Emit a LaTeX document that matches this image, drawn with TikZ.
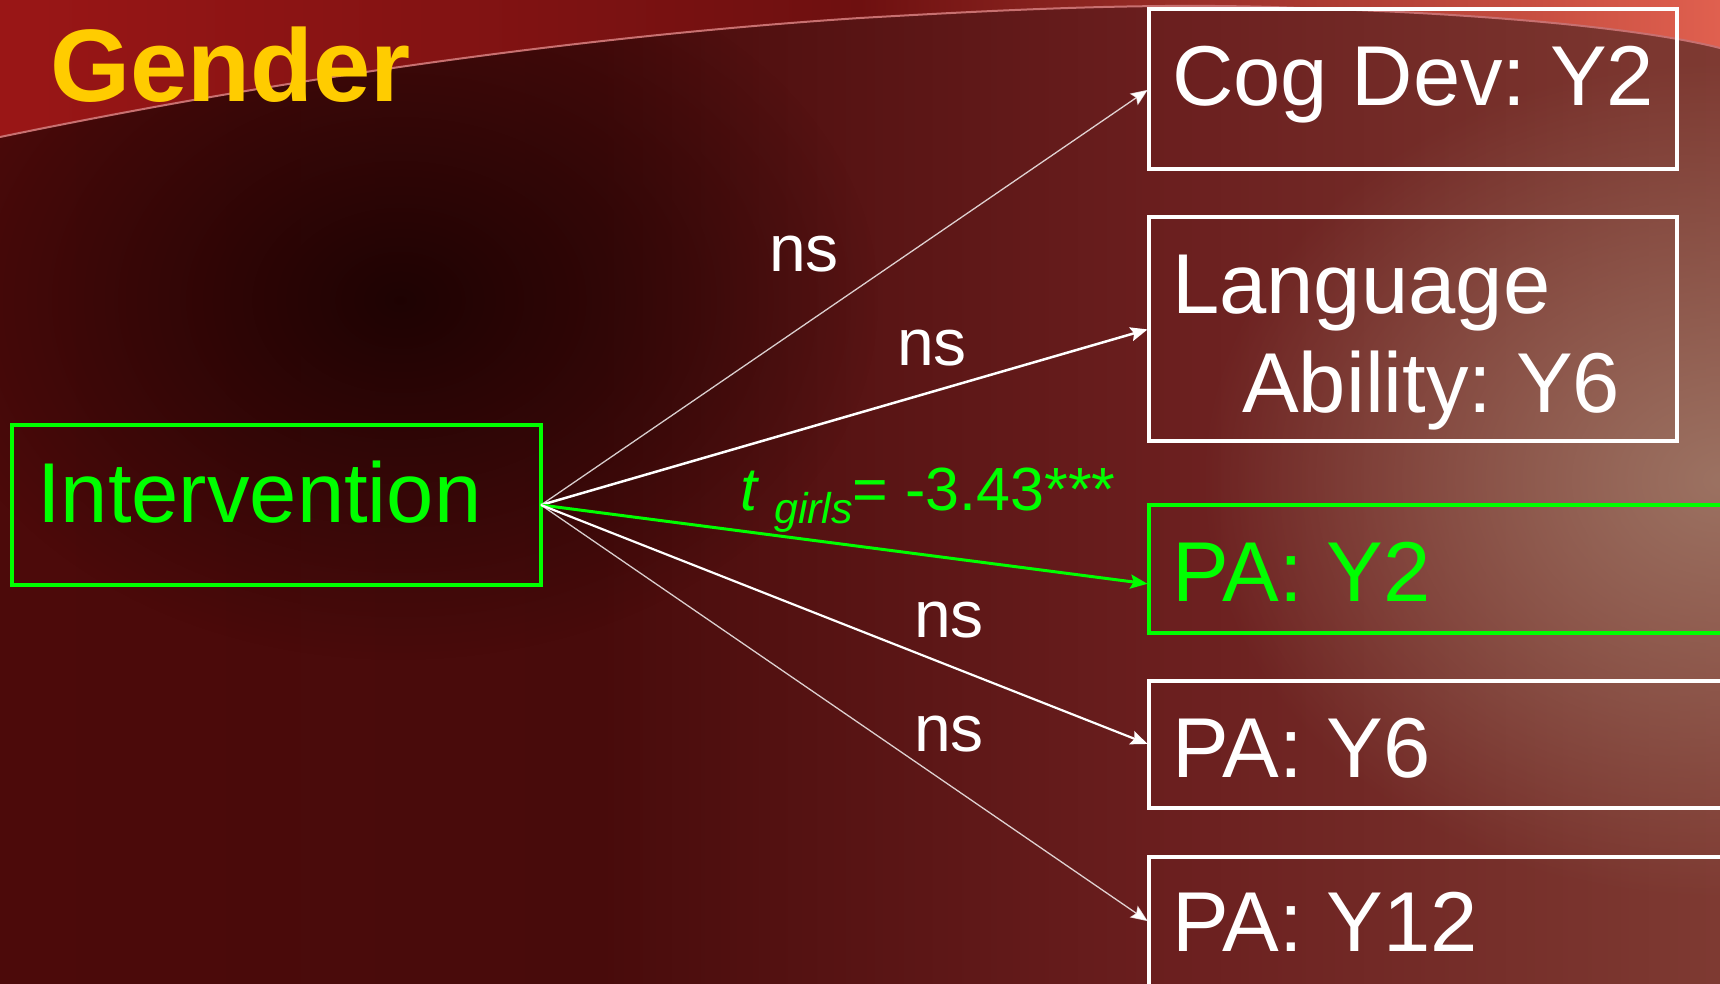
\documentclass[tikz,border=0pt]{standalone}
\usepackage{fontspec}
\setmainfont{Liberation Sans}
\usetikzlibrary{arrows.meta,fadings,calc}
\definecolor{bgA}{HTML}{4C0A0A}
\definecolor{bgB}{HTML}{480B0B}
\definecolor{bgC}{HTML}{6A1E1E}
\definecolor{bgD}{HTML}{7E3A32}
\definecolor{bandA}{HTML}{9A1616}
\definecolor{bandB}{HTML}{6E1010}
\definecolor{bandC}{HTML}{E0604F}
\definecolor{darkblob}{HTML}{1A0202}
\definecolor{lightblob}{HTML}{9C7262}
\definecolor{edgeline}{HTML}{C87070}
\definecolor{ggreen}{RGB}{0,255,0}
\definecolor{gyellow}{HTML}{FFCC00}
\tikzfading[name=softblob, inner color=transparent!0, outer color=transparent!100]
\tikzset{
  wbox/.style={draw=white, line width=3.5pt, inner sep=0pt, outer sep=0pt, anchor=north west},
  gbox/.style={draw=ggreen, line width=3.5pt, inner sep=0pt, outer sep=0pt, anchor=north west},
  btext/.style={text=white, inner sep=0pt, anchor=base west, font=\fontsize{85}{96}\selectfont},
  nslabel/.style={text=white, inner sep=0pt, anchor=base west, font=\fontsize{66}{76}\selectfont},
  conn/.style={draw=white, shorten >=1.5pt, -{Stealth[length=17pt,width=14pt,inset=3pt]}},
}
\begin{document}
\frenchspacing
\begin{tikzpicture}[x=1pt,y=-1pt]
\useasboundingbox (0,0) rectangle (1720,984);
\clip (0,0) rectangle (1720,984);
% background
\shade[left color=bgA, right color=bgB] (0,0) rectangle (600,984);
\shade[left color=bgB, right color=bgC] (599,0) rectangle (1150,984);
\shade[left color=bgC, right color=bgD] (1149,0) rectangle (1720,984);
\fill[lightblob, path fading=softblob] (1720,480) circle [x radius=520pt, y radius=420pt];
\fill[darkblob, path fading=softblob, fill opacity=0.9] (400,300) circle [x radius=480pt, y radius=360pt];
% top band
\shade[left color=bandA, right color=bandB] (0,0) -- (0,137) .. controls (300,75) and (600,35) .. (860,18) -- (860,0) -- cycle;
\shade[left color=bandB, right color=bandC] (859,0) -- (859,18) .. controls (1000,10) and (1150,2) .. (1300,8) .. controls (1500,14) and (1650,30) .. (1720,48) -- (1720,0) -- cycle;
\draw[edgeline, line width=2pt] (0,137) .. controls (300,75) and (600,35) .. (860,18) .. controls (1000,10) and (1150,2) .. (1300,8) .. controls (1500,14) and (1650,30) .. (1720,48);
% title
\node[text=gyellow, inner sep=0pt, anchor=base west, font=\fontsize{103}{115}\selectfont\bfseries] (title) at (50,102) {Gender};
% boxes
\node[wbox, minimum width=528pt, minimum height=160pt] (cog) at (1149,9) {};
\node[wbox, minimum width=528pt, minimum height=224pt] (lang) at (1149,217) {};
\node[gbox, minimum width=620pt, minimum height=128pt] (pay2) at (1149,505) {};
\node[wbox, minimum width=620pt, minimum height=127pt] (pay6) at (1149,681) {};
\node[wbox, minimum width=620pt, minimum height=130pt] (pay12) at (1149,857) {};
\node[gbox, minimum width=529pt, minimum height=160pt] (int) at (12,425) {};
% box texts
\node[btext] (tcog) at (1172,106) {Cog Dev: Y2};
\node[btext] (tlang1) at (1172,313) {Language};
\node[btext] (tlang2) at (1242,412) {Ability: Y6};
\node[btext, text=ggreen] (tpay2) at (1172,601) {PA: Y2};
\node[btext] (tpay6) at (1172,777) {PA: Y6};
\node[btext] (tpay12) at (1172,951) {PA: Y12};
\node[btext, text=ggreen] (tint) at (37,522) {Intervention};
% connectors
\coordinate (e2) at ($(pay2.west)+(0,15)$);
\draw[conn, line width=1.3pt, draw opacity=0.8] (int.east) -- (cog.west);
\draw[conn, line width=2.5pt] (int.east) -- (lang.west);
\draw[conn, draw=ggreen, line width=3pt] (int.east) -- (e2);
\draw[conn, line width=2.2pt] (int.east) -- (pay6.west);
\draw[conn, line width=1.3pt, draw opacity=0.8] (int.east) -- (pay12.west);
% labels
\node[nslabel] (ns1) at (769,271) {ns};
\node[nslabel] (ns2) at (897,365) {ns};
\node[nslabel] (ns3) at (914,637) {ns};
\node[nslabel] (ns4) at (914,751) {ns};
\node[text=ggreen, inner sep=0pt, anchor=base west, font=\fontsize{61}{70}\selectfont] (tlab) at (740,510) {\itshape t \raisebox{-13pt}{\fontsize{43}{50}\selectfont girls}\upshape= -3.43***};
\end{tikzpicture}
\end{document}
